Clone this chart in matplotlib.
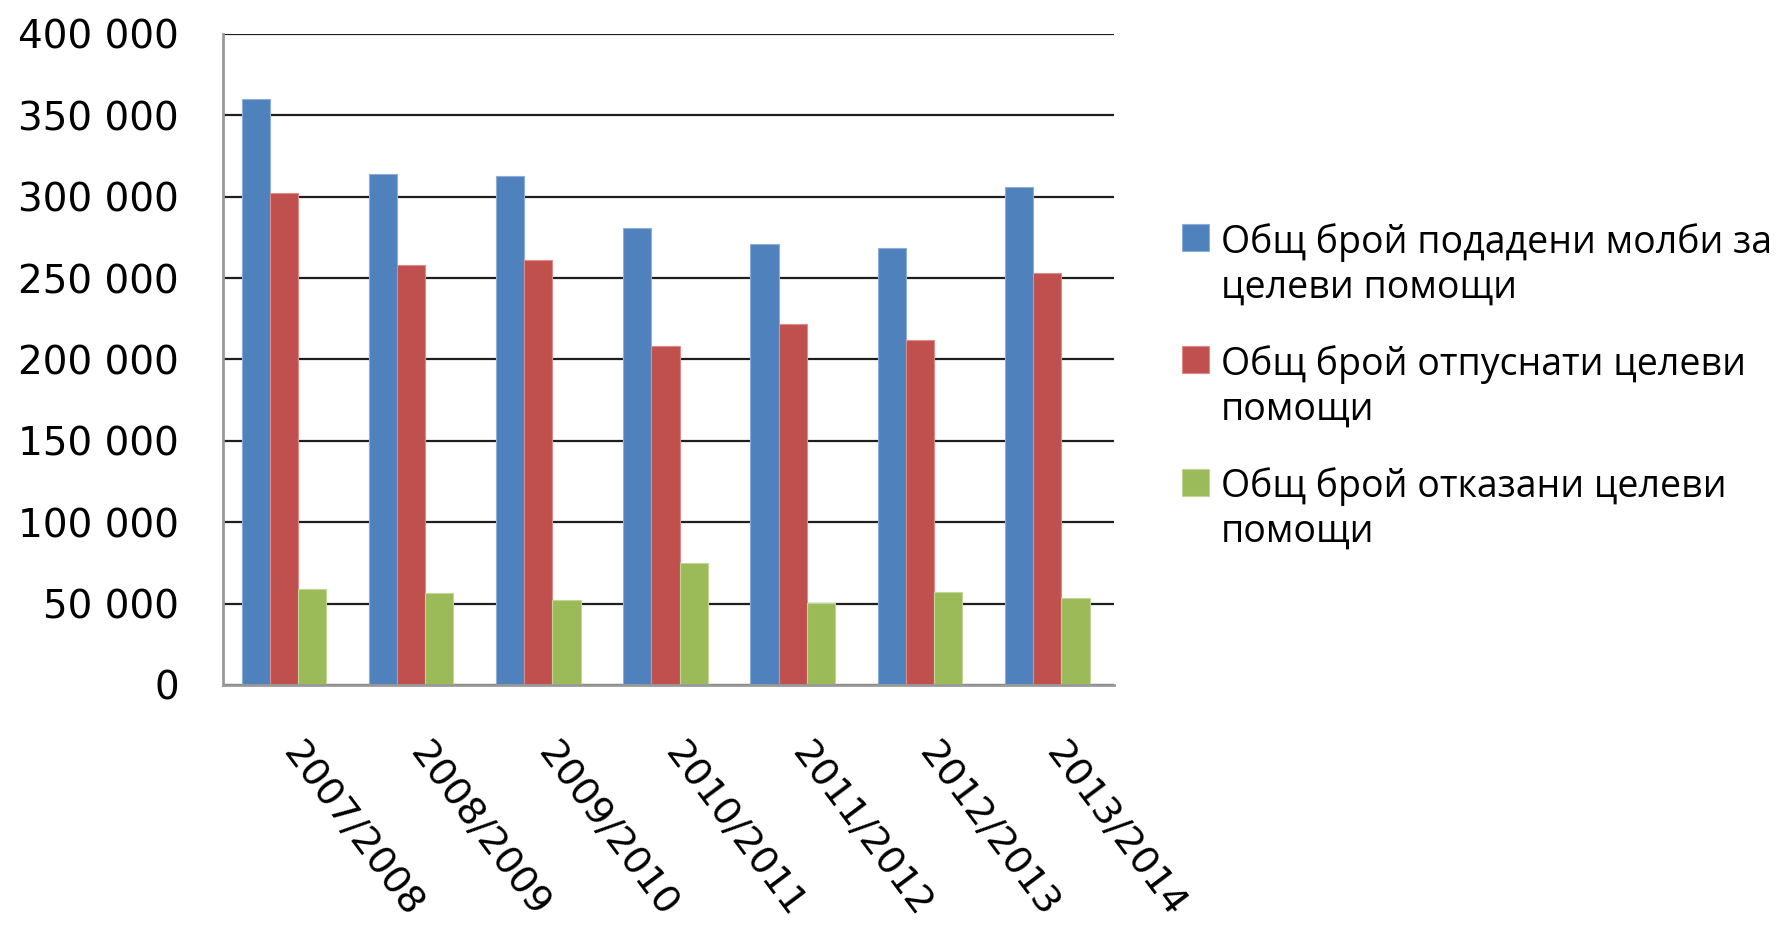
import matplotlib
matplotlib.use("Agg")
import matplotlib.pyplot as plt
from matplotlib.patches import Rectangle
from matplotlib.transforms import ScaledTranslation
import numpy as np

categories = ["2007/2008", "2008/2009", "2009/2010", "2010/2011",
              "2011/2012", "2012/2013", "2013/2014"]
submitted = [360000, 314000, 313000, 281000, 271000, 268700, 306000]
granted = [302500, 258000, 261000, 208500, 221700, 212000, 253000]
refused = [59000, 56500, 52500, 74700, 50500, 57000, 53300]

series_labels = ["Общ брой подадени молби за\nцелеви помощи",
                 "Общ брой отпуснати целеви\nпомощи",
                 "Общ брой отказани целеви\nпомощи"]
colors = ["#4F81BD", "#C0504D", "#9BBB59"]
edges = ["#8EAEDA", "#DC8B89", "#BFD59A"]
yticks = [0, 50000, 100000, 150000, 200000, 250000, 300000, 350000, 400000]
ytick_labels = ["0", "50 000", "100 000", "150 000", "200 000", "250 000",
                "300 000", "350 000", "400 000"]

plt.rcParams['font.family'] = ['DejaVu Sans']
FS = 28

fig = plt.figure(figsize=(17.79, 9.26), dpi=100)
ax = fig.add_axes([0.1256, 0.2603, 0.5006, 0.7030])

x = np.arange(len(categories))
w = 0.222
for i, vals in enumerate([submitted, granted, refused]):
    ax.bar(x + (i - 1) * w, vals, width=w, color=colors[i],
           edgecolor=edges[i], linewidth=0.8, zorder=3)

ax.set_xlim(-0.475, len(categories) - 0.475)
ax.set_ylim(0, 400000)
ax.set_yticks(yticks)
ax.set_yticklabels(ytick_labels, fontsize=FS, color='black')
ax.set_xticks(x)
ax.set_xticklabels([])
off = ScaledTranslation(0.20, -0.505, fig.dpi_scale_trans)
for xi, cat in zip(x, categories):
    ax.text(xi, 0, cat, transform=ax.get_xaxis_transform() + off,
            fontsize=27.6, rotation=-53, ha='left', va='top',
            rotation_mode='anchor', color='black', clip_on=False)
ax.tick_params(axis='y', length=0, pad=32)
ax.tick_params(axis='x', length=0)
ax.yaxis.grid(True, color='#1e1e1e', linewidth=1.6, zorder=0)
ax.set_axisbelow(True)
for s in ['top', 'right']:
    ax.spines[s].set_visible(False)
for s in ['left', 'bottom']:
    ax.spines[s].set_color('#999999')
    ax.spines[s].set_linewidth(2)
    ax.spines[s].set_zorder(4)

# legend (manual)
W, H = 1779.0, 926.0
sw_x = 1182 / W
sw_w = 27 / W
sw_h = 27 / H
swatch_bottoms = [251, 373, 496]
last_baselines = [298, 420, 542]
txt_x = 1221 / W
for i, lab in enumerate(series_labels):
    fig.patches.append(Rectangle((sw_x, 1 - swatch_bottoms[i] / H), sw_w, sw_h,
                                 transform=fig.transFigure,
                                 facecolor=colors[i], edgecolor=edges[i],
                                 linewidth=0.8))
    fig.text(txt_x, 1 - last_baselines[i] / H, lab, fontsize=27,
             family=['Open Sans', 'DejaVu Sans'], va='baseline', ha='left',
             linespacing=1.25, color='black')

fig.savefig("out.png", dpi=100)
